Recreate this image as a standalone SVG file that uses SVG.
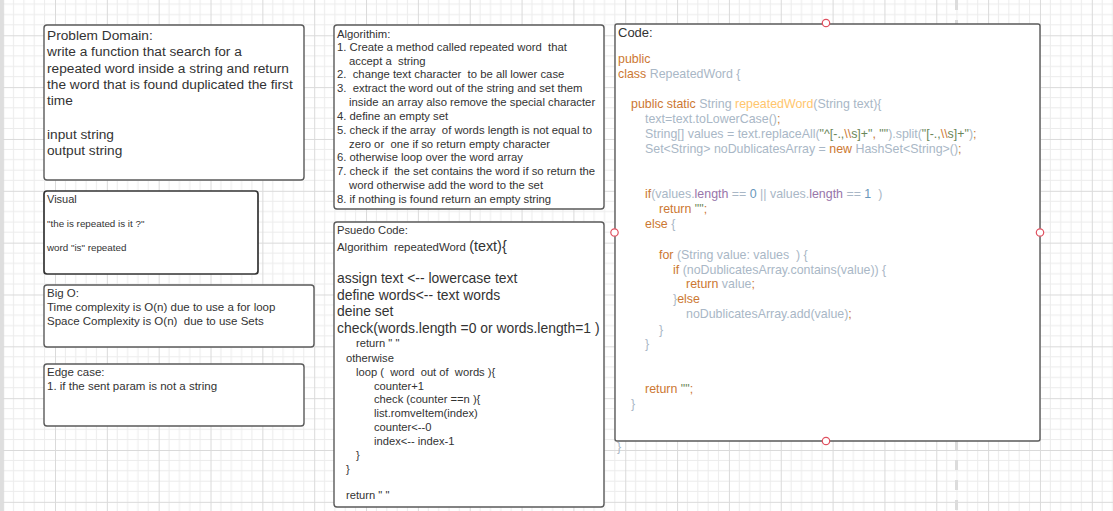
<svg xmlns="http://www.w3.org/2000/svg" width="1113" height="511" viewBox="0 0 1113 511">
<defs>
<pattern id="grid" width="51.84" height="51.84" patternUnits="userSpaceOnUse" x="3.16" y="35.28">
<path d="M10.37 0V51.84M20.74 0V51.84M31.1 0V51.84M41.47 0V51.84M0 10.37H51.84M0 20.74H51.84M0 31.1H51.84M0 41.47H51.84" stroke="#ececec" stroke-width="1" fill="none"/>
<path d="M0.5 0V51.84M0 0.5H51.84" stroke="#dadada" stroke-width="1" fill="none"/>
</pattern>
<style>
.box{fill:#fff;stroke:#5a5a5a;stroke-width:1.4}
.t{font-family:"Liberation Sans",Arial,sans-serif;fill:#333;white-space:pre}
.c{font-family:"Liberation Sans",Arial,sans-serif;font-size:12.4px;fill:#a9b7c6;white-space:pre}
.kw{fill:#cc7832}
.fn{fill:#ffc66d}
.fld{fill:#9876aa}
.num{fill:#6897bb}
.str{fill:#6a8759}
.pt{fill:#fff;stroke:#e0505f;stroke-width:1.2}
</style>
</defs>
<rect width="1113" height="511" fill="#fff"/>
<rect width="1113" height="511" fill="url(#grid)"/>
<rect x="0" y="0" width="3" height="511" fill="#dedede"/>
<line x1="956.5" y1="0" x2="956.5" y2="511" stroke="#dcdcdc" stroke-width="3" stroke-dasharray="10 10"/>

<g id="connectors"></g>

<g id="problem-domain">
<rect class="box" x="44" y="25" width="260" height="155" rx="3"/>
<text class="t" font-size="13.7"><tspan x="47" y="40">Problem Domain:</tspan><tspan x="47" y="56">write a function that search for a</tspan><tspan x="47" y="73">repeated word inside a string and return</tspan><tspan x="47" y="89">the word that is found duplicated the first</tspan><tspan x="47" y="105">time</tspan><tspan x="47" y="139">input string</tspan><tspan x="47" y="155">output string</tspan></text>
</g>

<g id="visual">
<rect class="box" x="44" y="191" width="214" height="83" rx="3" style="stroke:#333;stroke-width:1.7"/>
<text class="t" font-size="11" x="47" y="203">Visual</text>
<text class="t" font-size="9.8" x="47" y="227">"the is repeated is it ?"</text>
<text class="t" font-size="9.8" x="47" y="251">word "is" repeated</text>
</g>

<g id="big-o">
<rect class="box" x="44" y="285" width="270" height="62" rx="3"/>
<text class="t" font-size="11.5"><tspan x="47" y="297">Big O:</tspan><tspan x="47" y="311">Time complexity is O(n) due to use a for loop</tspan><tspan x="47" y="325">Space Complexity is O(n)  due to use Sets</tspan></text>
</g>

<g id="edge-case">
<rect class="box" x="44" y="364" width="260" height="62" rx="3"/>
<text class="t" font-size="11.5"><tspan x="47" y="376">Edge case:</tspan><tspan x="47" y="390">1. if the sent param is not a string</tspan></text>
</g>

<g id="algorithm">
<rect class="box" x="334" y="25" width="270" height="184" rx="3"/>
<text class="t" font-size="11.3"><tspan x="337" y="38">Algorithim:</tspan><tspan x="337" y="51">1. Create a method called repeated word  that</tspan><tspan x="349" y="65">accept a  string</tspan><tspan x="337" y="78">2.  change text character  to be all lower case</tspan><tspan x="337" y="92">3.  extract the word out of the string and set them</tspan><tspan x="349" y="106">inside an array also remove the special character</tspan><tspan x="337" y="120">4. define an empty set</tspan><tspan x="337" y="134">5. check if the array  of words length is not equal to</tspan><tspan x="349" y="148">zero or  one if so return empty character</tspan><tspan x="337" y="161">6. otherwise loop over the word array</tspan><tspan x="337" y="175">7. check if  the set contains the word if so return the</tspan><tspan x="349" y="189">word otherwise add the word to the set</tspan><tspan x="337" y="203">8. if nothing is found return an empty string</tspan></text>
</g>

<g id="pseudo-code">
<rect class="box" x="334" y="222" width="270" height="285" rx="3"/>
<text class="t" font-size="11.2" x="337" y="234">Psuedo Code:</text>
<text class="t" font-size="11.4" x="337" y="251">Algorithim  repeatedWord <tspan font-size="14.4">(text){</tspan></text>
<text class="t" font-size="13.9"><tspan x="337" y="283">assign text &lt;-- lowercase text</tspan><tspan x="337" y="300">define words&lt;-- text words</tspan><tspan x="337" y="316">deine set</tspan><tspan x="337" y="333">check(words.length =0 or words.length=1 )</tspan></text>
<text class="t" font-size="11.2"><tspan x="356" y="347">return " "</tspan><tspan x="346" y="361.5">otherwise</tspan><tspan x="356" y="375.5">loop (  word  out of  words ){</tspan><tspan x="374" y="390">counter+1</tspan><tspan x="374" y="403">check (counter ==n ){</tspan><tspan x="374" y="416.5">list.romveItem(index)</tspan><tspan x="374" y="430.5">counter&lt;--0</tspan><tspan x="374" y="444.5">index&lt;-- index-1</tspan><tspan x="356" y="459">}</tspan><tspan x="346" y="473">}</tspan><tspan x="346" y="499">return " "</tspan></text>
</g>

<g id="code">
<rect class="box" x="615" y="24" width="425" height="417" rx="2"/>
<text class="t" font-size="13" x="618" y="37">Code:</text>
<text class="c"><tspan x="618" y="63" class="kw">public</tspan><tspan x="618" y="78"><tspan class="kw">class</tspan> RepeatedWord {</tspan><tspan x="631" y="108"><tspan class="kw">public static</tspan> String <tspan class="fn">repeatedWord</tspan>(String text){</tspan><tspan x="645" y="122.5">text=text.toLowerCase()<tspan class="kw">;</tspan></tspan><tspan x="645" y="138">String[] values = text.replaceAll(<tspan class="str">"^[-.,</tspan><tspan class="kw">\\</tspan><tspan class="str">s]+"</tspan><tspan class="kw">, </tspan><tspan class="str">""</tspan>).split(<tspan class="str">"[-.,</tspan><tspan class="kw">\\</tspan><tspan class="str">s]+"</tspan>)<tspan class="kw">;</tspan></tspan><tspan x="645" y="153">Set&lt;String&gt; noDublicatesArray = <tspan class="kw">new</tspan> HashSet&lt;String&gt;()<tspan class="kw">;</tspan></tspan><tspan x="645" y="198"><tspan class="kw">if</tspan>(values.<tspan class="fld">length</tspan> == <tspan class="num">0</tspan> || values.<tspan class="fld">length</tspan> == <tspan class="num">1</tspan>  )</tspan><tspan x="659" y="212.5"><tspan class="kw">return</tspan> <tspan class="str">""</tspan><tspan class="kw">;</tspan></tspan><tspan x="645" y="228"><tspan class="kw">else</tspan> {</tspan><tspan x="659" y="258.5"><tspan class="kw">for</tspan> (String value: values  ) {</tspan><tspan x="673" y="273.5"><tspan class="kw">if</tspan> (noDublicatesArray.contains(value)) {</tspan><tspan x="686" y="288"><tspan class="kw">return</tspan> value<tspan class="kw">;</tspan></tspan><tspan x="673" y="303">}<tspan class="kw">else</tspan></tspan><tspan x="686" y="318">noDublicatesArray.add(value)<tspan class="kw">;</tspan></tspan><tspan x="659" y="334">}</tspan><tspan x="645" y="348">}</tspan><tspan x="645" y="393"><tspan class="kw">return</tspan> <tspan class="str">""</tspan><tspan class="kw">;</tspan></tspan><tspan x="631" y="408">}</tspan></text>
<text class="c" font-size="9" x="617" y="451">}</text>
<circle class="pt" cx="826" cy="23" r="3.7"/>
<circle class="pt" cx="614.5" cy="232.5" r="3.7"/>
<circle class="pt" cx="1040" cy="232.5" r="3.7"/>
<circle class="pt" cx="826" cy="441" r="3.7"/>
</g>
</svg>
